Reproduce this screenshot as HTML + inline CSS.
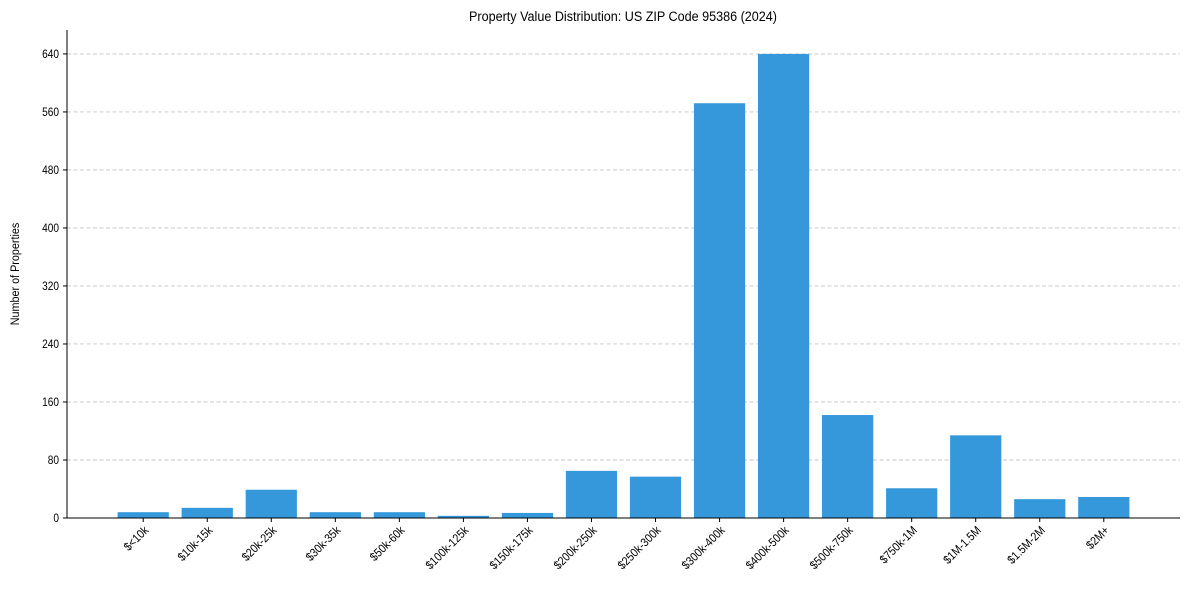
<!DOCTYPE html>
<html><head><meta charset="utf-8"><style>
body{margin:0;background:#fff;font-family:"Liberation Sans",Arial,sans-serif}
svg text{font-family:"Liberation Sans",Arial,sans-serif;fill:#000}
</style></head><body>
<svg id="chart" width="1189" height="590" xmlns="http://www.w3.org/2000/svg">
<text transform="translate(623,21) scale(0.9,1)" text-anchor="middle" font-size="14">Property Value Distribution: US ZIP Code 95386 (2024)</text>
<text transform="translate(19,274) rotate(-90) scale(0.9,1)" text-anchor="middle" font-size="12">Number of Properties</text>
<g id="grid"></g>
<g id="bars"></g>
<g id="axes"></g>
</svg>
<script>
const categories=["$<10k","$10k-15k","$20k-25k","$30k-35k","$50k-60k","$100k-125k","$150k-175k","$200k-250k","$250k-300k","$300k-400k","$400k-500k","$500k-750k","$750k-1M","$1M-1.5M","$1.5M-2M","$2M+"];
const values=[8,14,39,8,8,3,7,65,57,572,640,142,41,114,26,29];
const yTicks=[0,80,160,240,320,400,480,560,640];
const NS="http://www.w3.org/2000/svg";
const L=67,R=1180,T=30,B=518,YMAX=673;
const n=categories.length, xmin=-1.19, xmax=n-1+1.19;
const xs=i=>L+(i-xmin)/(xmax-xmin)*(R-L);
const ys=v=>B-v/YMAX*(B-T);
const bw=0.8*(xs(1)-xs(0));
function mk(tag,attrs,parent,txt){const e=document.createElementNS(NS,tag);for(const k in attrs)e.setAttribute(k,attrs[k]);if(txt!==undefined)e.textContent=txt;parent.appendChild(e);return e;}
const grid=document.getElementById('grid'),bars=document.getElementById('bars'),axes=document.getElementById('axes');
yTicks.forEach(t=>{
  const y=ys(t);
  if(t>0){const g=mk('line',{x1:L,x2:R,y1:y,y2:y,stroke:'#c4c4c4','stroke-dasharray':'4,2.5','stroke-width':0.9},grid);
  
  }
  const tk=mk('line',{x1:L-4,x2:L,y1:y,y2:y,stroke:'#000'},axes);
  
  
  const tl=mk('text',{transform:`translate(${L-8},${y+4}) scale(0.88,1)`,'text-anchor':'end','font-size':11.5},axes,t);
  
  
});
categories.forEach((c,i)=>{
  const x=xs(i),v=values[i];
  const r=mk('rect',{x:x-bw/2,y:ys(v),width:bw,height:B-ys(v),fill:'#3498db'},bars);
  
  
  const tk=mk('line',{x1:x,x2:x,y1:B,y2:B+4,stroke:'#000'},axes);
  
  
  const tl=mk('text',{transform:`translate(${x+6},${B+13}) rotate(-45) scale(0.88,1)`,'text-anchor':'end','font-size':12},axes,c);
  
  
});
const ya=mk('line',{x1:L,x2:L,y1:T,y2:B,stroke:'#000'},axes);


const xa=mk('line',{x1:L,x2:R,y1:B,y2:B,stroke:'#000'},axes);


</script>
</body></html>
